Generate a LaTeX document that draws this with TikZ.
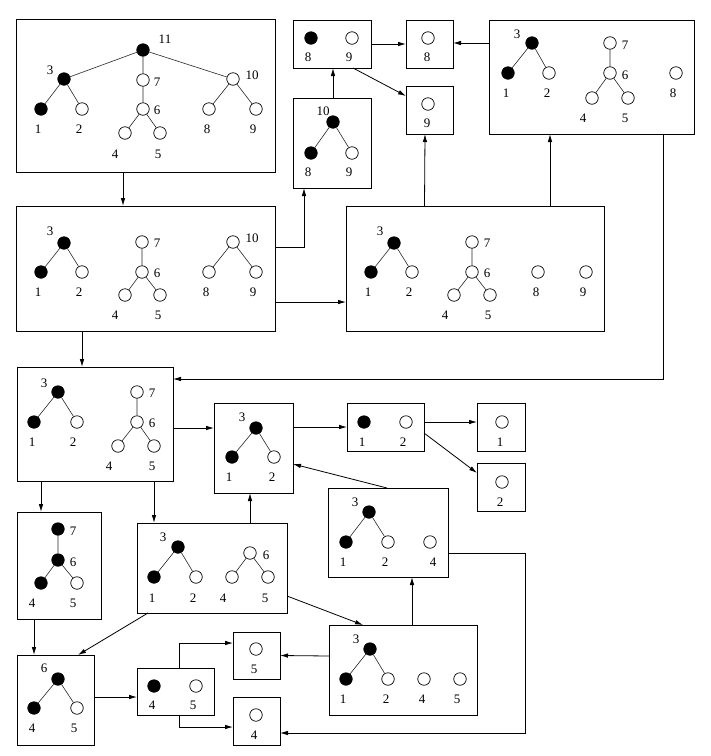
\documentclass[tikz,border=0pt]{standalone}
\usepackage{fontspec}
\setmainfont{Liberation Serif}
\usetikzlibrary{arrows.meta}
\tikzset{
  box/.style={draw, line width=0.9pt, inner sep=0pt, outer sep=0pt},
  w/.style={circle, draw, line width=0.7pt, fill=white, inner sep=0pt, minimum size=12.5pt},
  b/.style={w, fill=black},
  lbl/.style={inner sep=0pt, font=\fontsize{13}{15}\selectfont},
  edge/.style={line width=0.6pt, draw=black!85},
  arr/.style={-{Latex[length=8pt,width=4.5pt]}, line width=0.8pt}
}
\newcommand\vx[7]{\node[#2] (#1) at (#3,#4) {}; \node[lbl] (#1l) at (#6,#7) {#5};}
\newcommand\bx[5]{\node[box, minimum width=#4pt, minimum height=#5pt] (#1) at (#2,#3) {};}
\begin{document}
\begin{tikzpicture}[x=1pt,y=-1pt]
\useasboundingbox (0,0) rectangle (711,756);
% boxes
\bx{A}{145.5}{95.5}{259}{153}
\bx{B}{145.5}{268.5}{259}{125}
\bx{C}{332}{143}{78}{90}
\bx{F}{332}{44}{78}{48}
\bx{G}{429.5}{44}{47}{48}
\bx{H}{429.5}{110}{47}{48}
\bx{I}{591.5}{77}{205}{114}
\bx{D}{475}{268.5}{258}{125}
\bx{E}{95}{424}{156}{114}
\bx{J}{253.5}{448}{79}{90}
\bx{K}{385.5}{427}{77}{48}
\bx{T}{501}{427}{48}{48}
\bx{U}{501}{487}{48}{48}
\bx{M}{388}{532.5}{120}{89}
\bx{L}{59}{565.5}{84}{107}
\bx{N}{212}{568}{150}{90}
\bx{O}{55.5}{700}{77}{90}
\bx{Q}{175.5}{691.5}{77}{47}
\bx{R}{256.5}{655.5}{47}{47}
\bx{S}{256.5}{721}{47}{48}
\bx{P}{403}{670}{148}{90}
% box A
\vx{a11}{b}{143}{50}{11}{165}{39}
\vx{a3}{b}{64}{79}{3}{50}{70}
\vx{a7}{w}{143}{80}{7}{157}{82}
\vx{a10}{w}{233}{79}{10}{252}{75}
\vx{a1}{b}{41}{109}{1}{38}{129}
\vx{a2}{w}{82}{109}{2}{79}{129}
\vx{a6}{w}{143}{109}{6}{157}{110}
\vx{a4}{w}{125}{133}{4}{115}{154}
\vx{a5}{w}{160}{133}{5}{158}{154}
\vx{a8}{w}{209}{109}{8}{207}{129}
\vx{a9}{w}{256}{109}{9}{253}{129}
\draw[edge] (a11)--(a3) (a11)--(a7) (a11)--(a10) (a3)--(a1) (a3)--(a2)
  (a7)--(a6) (a6)--(a4) (a6)--(a5) (a10)--(a8) (a10)--(a9);
% box B
\vx{b3}{b}{64}{243}{3}{50}{231}
\vx{b1}{b}{41}{272}{1}{38}{292}
\vx{b2}{w}{82}{272}{2}{79}{292}
\vx{b7}{w}{142}{242}{7}{157}{243}
\vx{b6}{w}{142}{272}{6}{157}{273}
\vx{b4}{w}{125}{295}{4}{115}{315}
\vx{b5}{w}{160}{295}{5}{158}{315}
\vx{b10}{w}{233}{242}{10}{252}{238}
\vx{b8}{w}{209}{272}{8}{206}{292}
\vx{b9}{w}{256}{272}{9}{253}{292}
\draw[edge] (b3)--(b1) (b3)--(b2) (b7)--(b6) (b6)--(b4) (b6)--(b5) (b10)--(b8) (b10)--(b9);
% box C
\vx{c10}{b}{333}{122}{10}{323}{111}
\vx{c8}{b}{311}{153}{8}{308}{172}
\vx{c9}{w}{352}{153}{9}{349}{172}
\draw[edge] (c10)--(c8) (c10)--(c9);
% box F, G, H
\vx{f8}{b}{311}{38}{8}{308}{57}
\vx{f9}{w}{352}{38}{9}{349}{57}
\vx{g8}{w}{428}{38}{8}{427}{57}
\vx{h9}{w}{428}{104}{9}{427}{123}
% box I
\vx{i3}{b}{532}{43}{3}{517}{34}
\vx{i1}{b}{508}{73}{1}{506}{93}
\vx{i2}{w}{549}{73}{2}{547}{93}
\vx{i7}{w}{610}{43}{7}{625}{45}
\vx{i6}{w}{610}{73}{6}{625}{75}
\vx{i4}{w}{592}{98}{4}{583}{118}
\vx{i5}{w}{628}{98}{5}{625}{118}
\vx{i8}{w}{676}{73}{8}{673}{93}
\draw[edge] (i3)--(i1) (i3)--(i2) (i7)--(i6) (i6)--(i4) (i6)--(i5);
% box D
\vx{d3}{b}{394}{243}{3}{380}{231}
\vx{d1}{b}{371}{272}{1}{368}{292}
\vx{d2}{w}{412}{272}{2}{409}{292}
\vx{d7}{w}{472}{242}{7}{487}{243}
\vx{d6}{w}{472}{272}{6}{487}{273}
\vx{d4}{w}{454}{295}{4}{445}{315}
\vx{d5}{w}{490}{295}{5}{488}{315}
\vx{d8}{w}{538}{272}{8}{536}{292}
\vx{d9}{w}{586}{272}{9}{583}{292}
\draw[edge] (d3)--(d1) (d3)--(d2) (d7)--(d6) (d6)--(d4) (d6)--(d5);
% box E
\vx{e3}{b}{58}{392}{3}{44}{383}
\vx{e1}{b}{34}{422}{1}{32}{442}
\vx{e2}{w}{77}{422}{2}{73}{442}
\vx{e7}{w}{137}{392}{7}{152}{393}
\vx{e6}{w}{137}{422}{6}{152}{423}
\vx{e4}{w}{118}{446}{4}{109}{466}
\vx{e5}{w}{154}{446}{5}{152}{466}
\draw[edge] (e3)--(e1) (e3)--(e2) (e7)--(e6) (e6)--(e4) (e6)--(e5);
% box J
\vx{j3}{b}{256}{428}{3}{242}{417}
\vx{j1}{b}{232}{457}{1}{229}{477}
\vx{j2}{w}{274}{457}{2}{272}{477}
\draw[edge] (j3)--(j1) (j3)--(j2);
% box K, T, U
\vx{k1}{b}{364}{422}{1}{362}{442}
\vx{k2}{w}{406}{422}{2}{403}{442}
\vx{t1}{w}{502}{422}{1}{500}{442}
\vx{u2}{w}{502}{482}{2}{500}{502}
% box M
\vx{m3}{b}{369}{512}{3}{355}{502}
\vx{m1}{b}{346}{542}{1}{343}{562}
\vx{m2}{w}{388}{542}{2}{385}{562}
\vx{m4}{w}{430}{542}{4}{433}{562}
\draw[edge] (m3)--(m1) (m3)--(m2);
% box L
\vx{l7}{b}{58}{529}{7}{73}{531}
\vx{l6}{b}{58}{560}{6}{73}{562}
\vx{l4}{b}{41}{583}{4}{32}{603}
\vx{l5}{w}{77}{583}{5}{73}{603}
\draw[edge] (l7)--(l6) (l6)--(l4) (l6)--(l5);
% box N
\vx{n3}{b}{178}{547}{3}{163}{537}
\vx{n1}{b}{154}{577}{1}{152}{598}
\vx{n2}{w}{196}{577}{2}{193}{598}
\vx{n6}{w}{250}{553}{6}{266}{555}
\vx{n4}{w}{232}{577}{4}{223}{598}
\vx{n5}{w}{268}{577}{5}{265}{598}
\draw[edge] (n3)--(n1) (n3)--(n2) (n6)--(n4) (n6)--(n5);
% box O
\vx{o6}{b}{58}{679}{6}{44}{668}
\vx{o4}{b}{34}{708}{4}{32}{728}
\vx{o5}{w}{77}{708}{5}{74}{728}
\draw[edge] (o6)--(o4) (o6)--(o5);
% box Q, R, S
\vx{q4}{b}{154}{686}{4}{152}{705}
\vx{q5}{w}{196}{686}{5}{193}{705}
\vx{r5}{w}{256}{649}{5}{254}{669}
\vx{s4}{w}{256}{715}{4}{254}{735}
% box P
\vx{p3}{b}{370}{649}{3}{356}{639}
\vx{p1}{b}{346}{679}{1}{343}{699}
\vx{p2}{w}{388}{679}{2}{386}{699}
\vx{p4}{w}{424}{679}{4}{422}{699}
\vx{p5}{w}{460}{679}{5}{457}{699}
\draw[edge] (p3)--(p1) (p3)--(p2);
% connectors
\draw[arr] ([xshift=-22.5pt]A.south) -- ([xshift=-22.5pt]B.north);
\draw[arr] ([yshift=21.5pt]B.east) -| ([xshift=-28pt]C.south);
\draw[arr] ([yshift=-33.5pt]B.east) -- ([yshift=-33.5pt]D.west);
\draw[arr] ([xshift=1pt]C.north) -- ([xshift=1pt]F.south);
\draw[arr] (F.east) -- (G.west);
\draw[arr] ([xshift=21pt]F.south) -- ([yshift=14pt]H.west);
\draw[arr] ([xshift=-50.5pt]D.north) -- ([xshift=-4.5pt]H.south);
\draw[arr] ([yshift=34pt]I.west) -- ([yshift=1pt]G.east);
\draw[arr] ([xshift=75pt]D.north) -- ([xshift=-41.5pt]I.south);
\draw[arr] ([xshift=71.5pt]I.south) |- ([yshift=45pt]E.east);
\draw[arr] ([xshift=-63.5pt]B.south) -- ([xshift=-13pt]E.north);
\draw[arr] ([yshift=-4pt]E.east) -- ([yshift=20pt]J.west);
\draw[arr] ([yshift=21pt]J.east) -- (K.west);
\draw[arr] ([yshift=5pt]K.east) -- ([yshift=5pt]T.west);
\draw[arr] ([yshift=-6pt]K.east) -- ([yshift=14pt]U.west);
\draw[arr] ([xshift=-1pt]M.north) -- ([yshift=-16pt]J.east);
\draw[arr] ([xshift=-54pt]E.south) -- ([xshift=-18pt]L.north);
\draw[arr] ([xshift=59pt]E.south) -- ([xshift=-58pt]N.north);
\draw[arr] ([xshift=38pt]N.north) -- ([xshift=-3.5pt]J.south);
\draw[arr] ([xshift=-25pt]L.south) -- ([xshift=-21.5pt]O.north);
\draw[arr] ([xshift=-64pt]N.south) -- ([xshift=22.5pt]O.north);
\draw[arr] ([yshift=-28pt]N.east) -- ([xshift=-40pt]P.north);
\draw[arr] ([xshift=9pt]P.north) -- ([xshift=24pt]M.south);
\coordinate (mscorner) at (525,553);
\draw[arr] ([yshift=-20.5pt]M.east) -- (mscorner) |- ([yshift=-12pt]S.east);
\draw[arr] ([yshift=14pt]P.west) -- (R.east);
\draw[arr] ([yshift=3pt]O.east) -- ([yshift=-5.5pt]Q.west);
\draw[arr] ([xshift=3.5pt]Q.north) |- ([yshift=12.5pt]R.west);
\draw[arr] ([xshift=3.5pt]Q.south) |- ([yshift=-6pt]S.west);
\end{tikzpicture}
\end{document}
